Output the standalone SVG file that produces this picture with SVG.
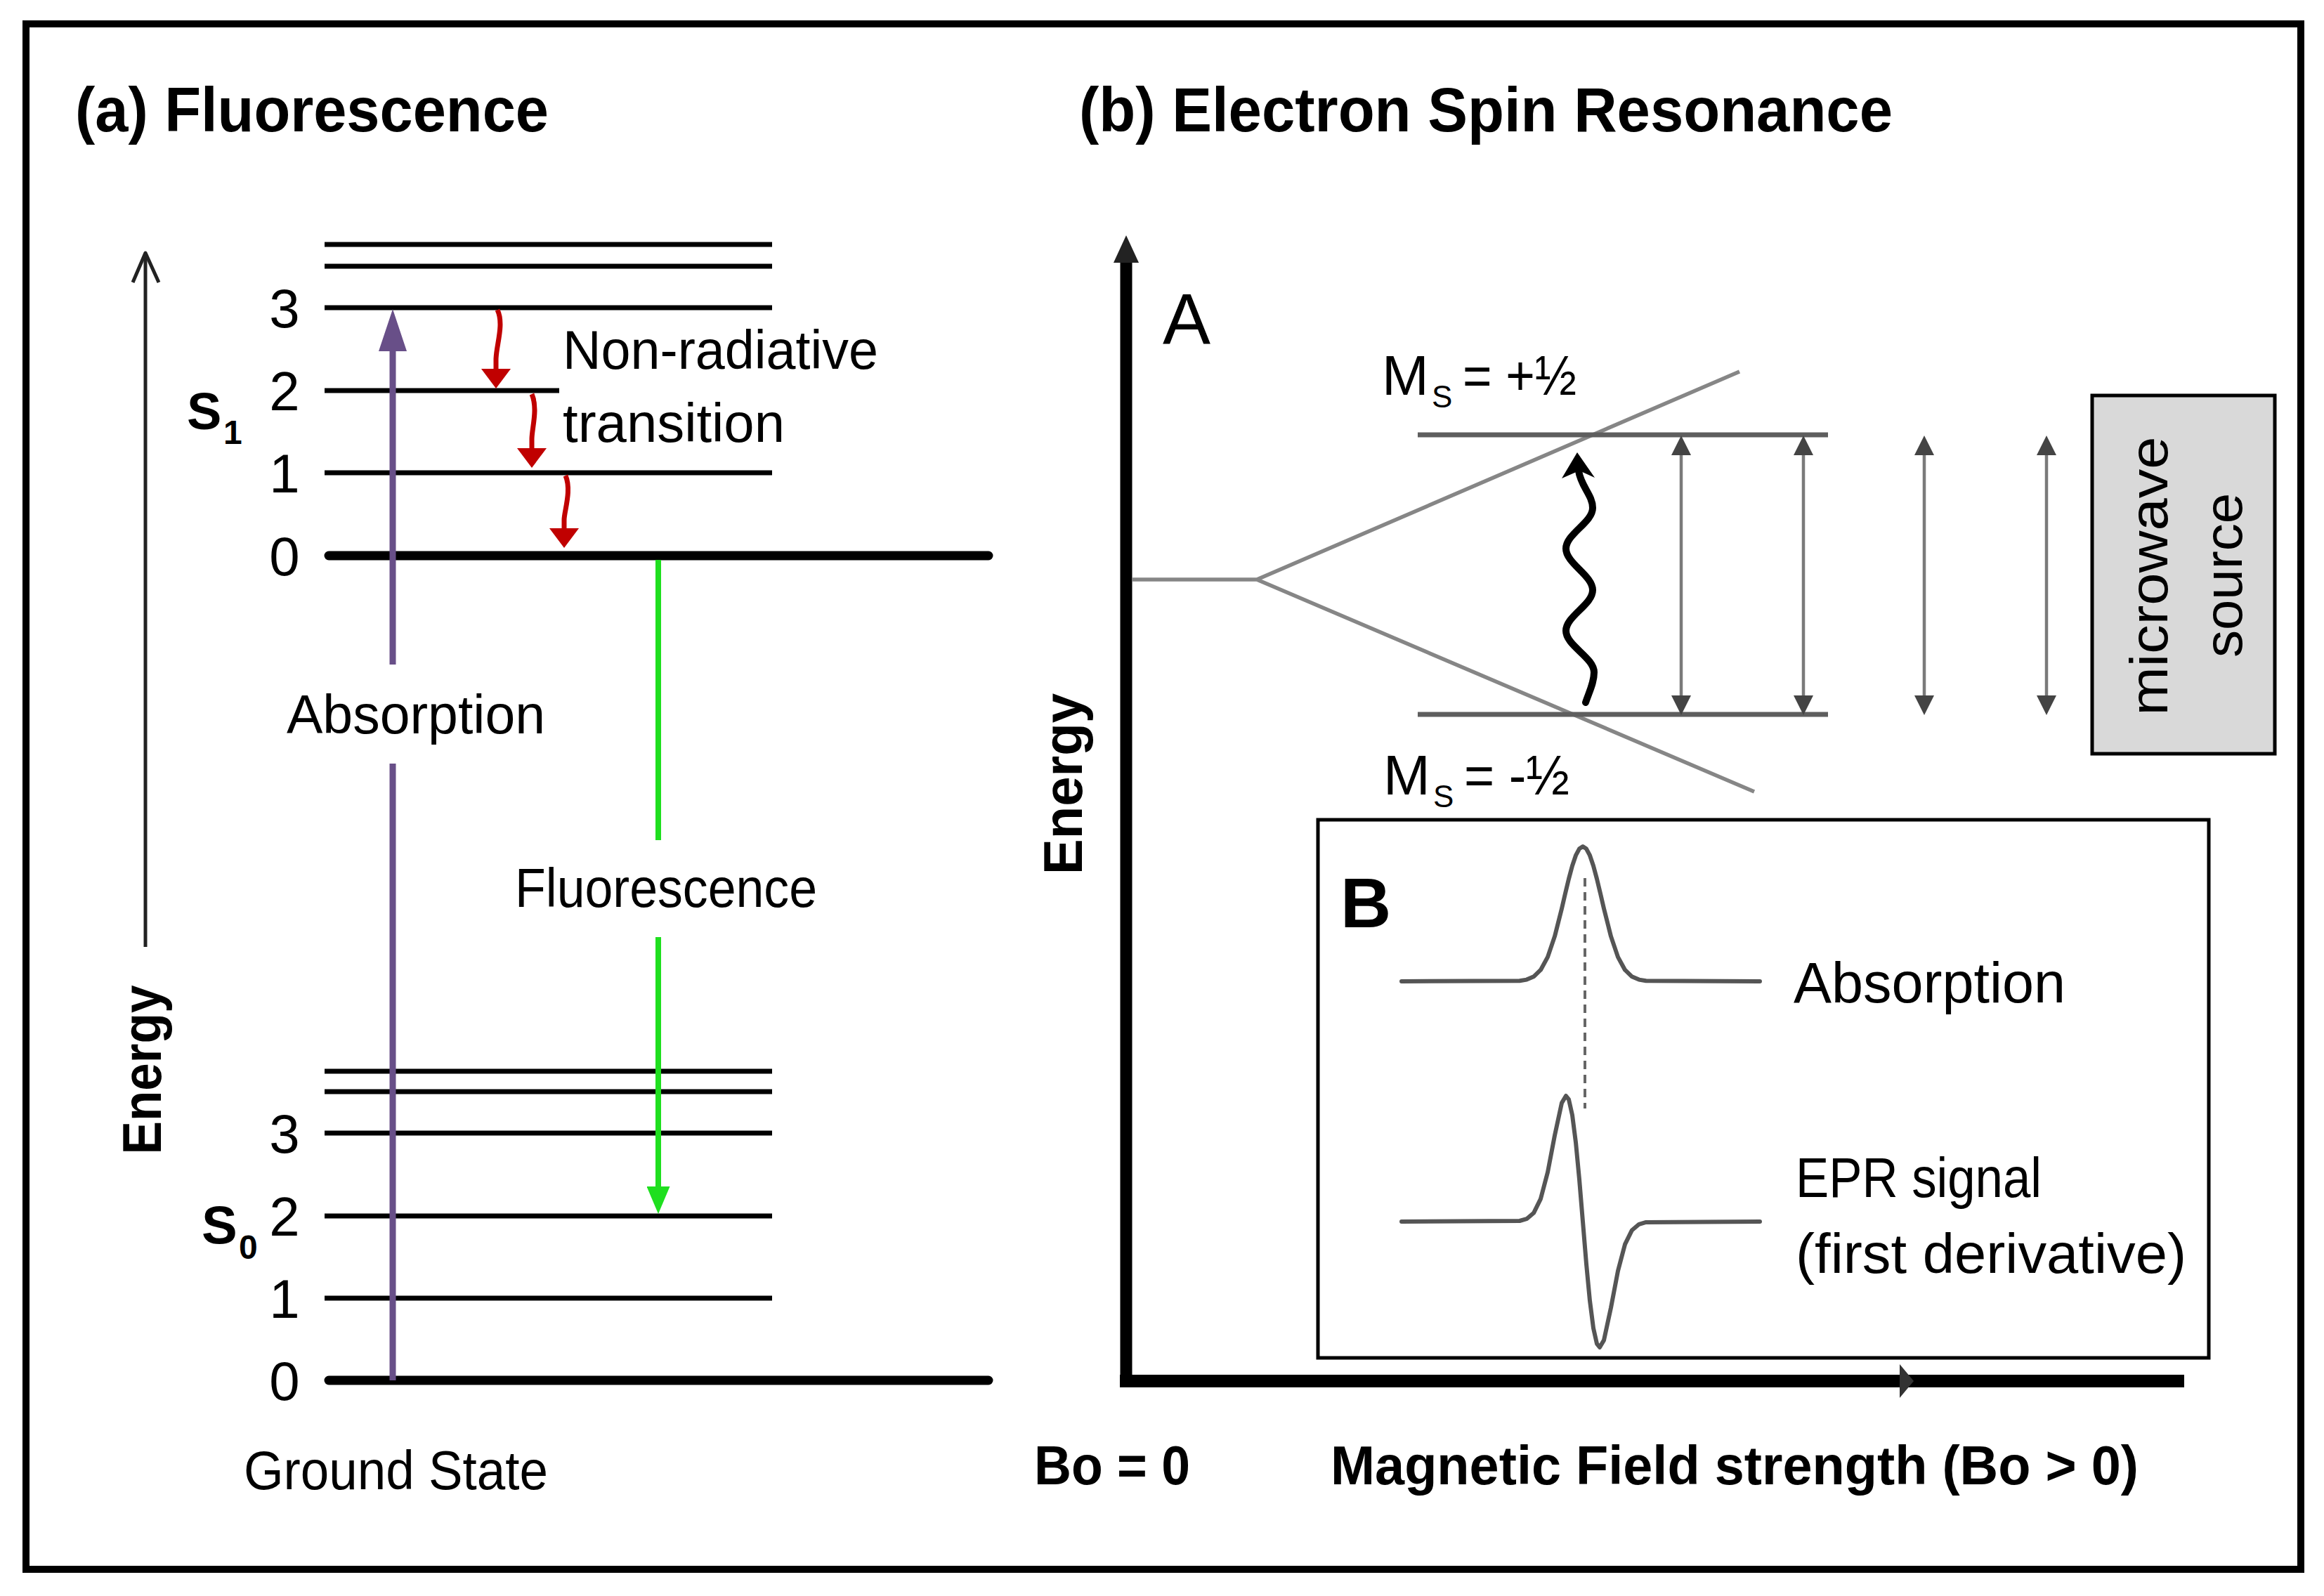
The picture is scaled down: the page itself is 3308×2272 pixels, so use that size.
<svg xmlns="http://www.w3.org/2000/svg" width="3308" height="2272" viewBox="0 0 3308 2272">
<style>
text{font-family:"Liberation Sans",Arial,sans-serif;fill:#000}
.b{font-weight:bold}
.num{font-size:78px;text-anchor:middle}
.lbl{font-size:77px}
.lvl{stroke:#000;stroke-width:7;fill:none}
.lvl0{stroke:#000;stroke-width:13;stroke-linecap:round;fill:none}
.zl{stroke:#5e5e5e;stroke-width:7;fill:none}
.zd{stroke:#868686;stroke-width:5.5;fill:none}
.dbl{stroke:#7a7a7a;stroke-width:4.5;fill:none;marker-start:url(#hg);marker-end:url(#hg)}
.red{stroke:#c00000;stroke-width:7;fill:none;marker-end:url(#hr)}
.sig{stroke:#555;stroke-width:6;fill:none;stroke-linejoin:round;stroke-linecap:round}
</style>
<defs>
<marker id="hg" markerUnits="userSpaceOnUse" markerWidth="28" markerHeight="28" viewBox="0 0 28 28" refX="0" refY="14" orient="auto-start-reverse"><path d="M0,0L28,14L0,28z" fill="#444"/></marker>
<marker id="hr" markerUnits="userSpaceOnUse" markerWidth="28" markerHeight="42" viewBox="0 0 28 42" refX="0" refY="21" orient="auto"><path d="M0,0L28,21L0,42z" fill="#c00000"/></marker>
<marker id="hp" markerUnits="userSpaceOnUse" markerWidth="60" markerHeight="40" viewBox="0 0 60 40" refX="0" refY="20" orient="auto"><path d="M0,0L60,20L0,40z" fill="#684f88"/></marker>
<marker id="hgr" markerUnits="userSpaceOnUse" markerWidth="39" markerHeight="33" viewBox="0 0 39 33" refX="0" refY="16.5" orient="auto"><path d="M0,0L39,16.5L0,33z" fill="#1fdf1f"/></marker>
</defs>
<rect x="0" y="0" width="3308" height="2272" fill="#fff"/>
<rect id="frame" x="37" y="34" width="3238" height="2200" fill="none" stroke="#000" stroke-width="10"/>

<!-- Panel (a) -->
<g id="panel-a">
  <text id="title-a" class="b" x="107" y="187" font-size="89" textLength="674" lengthAdjust="spacingAndGlyphs">(a) Fluorescence</text>
  <g id="energy-axis-a">
    <path d="M207 1348V362" stroke="#222" stroke-width="5" fill="none"/>
    <path d="M189 402L207 360L226 402" stroke="#222" stroke-width="5" fill="none" stroke-linejoin="round"/>
    <text class="b" transform="translate(229,1523) rotate(-90)" font-size="78" text-anchor="middle" textLength="241" lengthAdjust="spacingAndGlyphs">Energy</text>
  </g>
  <g id="S1-levels">
    <path class="lvl" d="M462 348H1099M462 379H1099M462 438H1099M462 556H796M462 673H1099"/>
    <path class="lvl0" d="M468 791H1407"/>
    <text class="num" x="405" y="466">3</text>
    <text class="num" x="405" y="584">2</text>
    <text class="num" x="405" y="701">1</text>
    <text class="num" x="405" y="819">0</text>
    <text id="lbl-S1" class="b" x="266" y="611" font-size="74">S<tspan x="318" y="632" font-size="48">1</tspan></text>
  </g>
  <g id="S0-levels">
    <path class="lvl" d="M462 1525H1099M462 1554H1099M462 1613H1099M462 1731H1099M462 1848H1099"/>
    <path class="lvl0" d="M468 1965H1407"/>
    <text class="num" x="405" y="1641">3</text>
    <text class="num" x="405" y="1759">2</text>
    <text class="num" x="405" y="1876">1</text>
    <text class="num" x="405" y="1993">0</text>
    <text id="lbl-S0" class="b" x="287" y="1770" font-size="76">S<tspan x="340" y="1792" font-size="48">0</tspan></text>
  </g>
  <text id="lbl-nonrad1" class="lbl" x="801" y="525" textLength="449" lengthAdjust="spacingAndGlyphs">Non-radiative</text>
  <text id="lbl-nonrad2" class="lbl" x="801" y="629" textLength="316" lengthAdjust="spacingAndGlyphs">transition</text>
  <text id="lbl-absorption-a" class="lbl" x="408" y="1044" textLength="368" lengthAdjust="spacingAndGlyphs">Absorption</text>
  <text id="lbl-fluorescence" class="lbl" x="733" y="1291" textLength="430" lengthAdjust="spacingAndGlyphs">Fluorescence</text>
  <text id="lbl-ground" class="lbl" x="347" y="2120" textLength="433" lengthAdjust="spacingAndGlyphs">Ground State</text>
</g>

<!-- Panel (b) -->
<g id="panel-b">
  <text id="title-b" class="b" x="1536" y="187" font-size="89" textLength="1158" lengthAdjust="spacingAndGlyphs">(b) Electron Spin Resonance</text>
  <g id="axes-b">
    <path d="M1603 1975V372" stroke="#000" stroke-width="17" fill="none"/>
    <polygon points="1585,374 1621,374 1603,335" fill="#222"/>
    <path d="M1594 1966H3109" stroke="#000" stroke-width="18" fill="none"/>
    <polygon points="2704,1942 2724,1966 2704,1990" fill="#333"/>
    <text class="b" transform="translate(1540,1116) rotate(-90)" font-size="77" text-anchor="middle" textLength="258" lengthAdjust="spacingAndGlyphs">Energy</text>
    <text class="b" x="1472" y="2113" font-size="77" textLength="222" lengthAdjust="spacingAndGlyphs">Bo = 0</text>
    <text class="b" x="1894" y="2113" font-size="77" textLength="1150" lengthAdjust="spacingAndGlyphs">Magnetic Field strength (Bo &gt; 0)</text>
  </g>
  <text id="lbl-A" x="1655" y="490" font-size="102">A</text>
  <g id="zeeman">
    <path class="zd" d="M1612 825H1789L2476 529M1789 825L2497 1127"/>
    <path class="zl" d="M2018 619H2602M2018 1017H2602"/>
    <text x="1967" y="562" font-size="80">M<tspan x="2038" y="580" font-size="44">S</tspan><tspan x="2082" y="562" textLength="162" lengthAdjust="spacingAndGlyphs">= +½</tspan></text>
    <text x="1969" y="1131" font-size="80">M<tspan x="2040" y="1149" font-size="44">S</tspan><tspan x="2084" y="1131" textLength="150" lengthAdjust="spacingAndGlyphs">= -½</tspan></text>
  </g>
  <g id="microwave-source">
    <rect x="2978" y="563" width="260" height="510" fill="#d9d9d9" stroke="#000" stroke-width="5"/>
    <text transform="translate(3085,820) rotate(-90)" font-size="76" text-anchor="middle" textLength="397" lengthAdjust="spacingAndGlyphs">microwave</text>
    <text transform="translate(3191,819) rotate(-90)" font-size="76" text-anchor="middle" textLength="234" lengthAdjust="spacingAndGlyphs">source</text>
  </g>
  <g id="box-B">
    <rect x="1876" y="1167" width="1268" height="766" fill="#fff" stroke="#000" stroke-width="5"/>
    <text class="b" x="1908" y="1320" font-size="100">B</text>
    <path class="sig" d="M1995 1397L2163 1396.3L2173 1394.6L2183 1390.3L2193 1380.7L2203 1362.4L2213 1332.9L2223 1293.4L2228 1271.9L2233 1251.1L2238 1232.5L2243 1217.7L2248 1208.3L2253 1205L2258 1208.3L2263 1217.7L2268 1232.5L2273 1251.1L2278 1271.9L2283 1293.4L2293 1332.9L2303 1362.4L2313 1380.7L2323 1390.3L2333 1394.6L2343 1396.3L2505 1397"/>
    <path d="M2256 1250V1578" stroke="#666" stroke-width="4" stroke-dasharray="12 8" fill="none"/>
    <path class="sig" d="M1995 1739L2163 1738L2173 1735.2L2183 1726.8L2193 1706.6L2203 1668.8L2213 1616.4L2223 1570.1L2229 1560L2233 1565.2L2238 1587.3L2243 1626.3L2248 1678.8L2253 1739L2258 1799.2L2263 1851.7L2268 1890.7L2273 1912.8L2277 1918L2283 1907.9L2293 1861.6L2303 1809.2L2313 1771.4L2323 1751.2L2333 1742.8L2343 1739.9L2505 1739"/>
    <text x="2553" y="1427" font-size="82" textLength="387" lengthAdjust="spacingAndGlyphs">Absorption</text>
    <text x="2556" y="1704" font-size="80" textLength="350" lengthAdjust="spacingAndGlyphs">EPR signal</text>
    <text x="2556" y="1812" font-size="80" textLength="556" lengthAdjust="spacingAndGlyphs">(first derivative)</text>
  </g>
</g>

<!-- Connectors -->
<g id="connectors">
  <path id="arrow-absorption" d="M559 1965V1087M559 946V500" stroke="#684f88" stroke-width="9" fill="none" marker-end="url(#hp)"/>
  <path id="arrow-fluorescence" d="M937 797V1196M937 1334V1689" stroke="#1fdf1f" stroke-width="8" fill="none" marker-end="url(#hgr)"/>
  <path id="nr1" class="red" d="M708 441C718 462 706 492 706 512L706 525"/>
  <path id="nr2" class="red" d="M757 561C766 582 757 610 757 625L757 638"/>
  <path id="nr3" class="red" d="M805 677C814 698 803 728 803 740L803 752"/>
  <g id="wavy-arrow">
    <path d="M2257 1000C2262 985 2269 972 2269 957C2269 936 2229 919 2229 898C2229 877 2267 861 2267 840C2267 819 2229 802 2229 781C2229 760 2267 744 2267 723C2267 705 2250 692 2247 670" stroke="#000" stroke-width="10" fill="none" stroke-linecap="round"/>
    <polygon points="2245,644 2270,680 2248,670 2223,681" fill="#000"/>
  </g>
  <path class="dbl" d="M2393 648V990"/>
  <path class="dbl" d="M2567 648V990"/>
  <path class="dbl" d="M2739 648V990"/>
  <path class="dbl" d="M2913 648V990"/>
</g>
</svg>
